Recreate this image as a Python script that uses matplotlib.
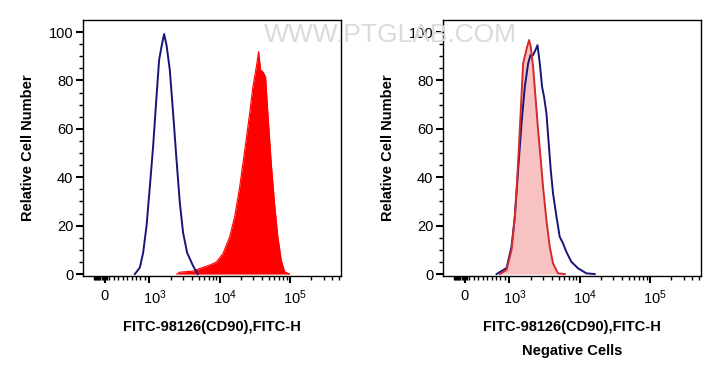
import numpy as np
import matplotlib
matplotlib.use("Agg")
import matplotlib.pyplot as plt
import matplotlib.transforms as mtransforms

plt.rcParams['font.family'] = ['Liberation Sans', 'DejaVu Sans']
plt.rcParams['mathtext.default'] = 'regular'

# ---------------- data (fluorescence intensity, relative cell number) ----------------
# Left panel: isotype/unstained control (blue outline)
left_blue_x = [674, 787, 861, 937, 1016, 1132, 1265, 1377, 1490, 1622, 1754, 1954,
               2178, 2433, 2711, 3015, 3436, 4179, 4870]
left_blue_y = [0, 2.7, 8.9, 19.9, 36, 52.8, 73.4, 88.5, 94, 99.2, 94.7, 84.4,
               66.5, 47.3, 29.5, 17.2, 8.9, 3.4, 0]
# Left panel: FITC-98126 (CD90) stained cells (red filled)
left_red_x = [2454, 2711, 4140, 5200, 7210, 8980, 11140, 13860, 16320, 19230, 22640,
              26670, 29650, 33190, 35750, 38170, 41140, 44910, 48420, 54080, 60230,
              67100, 74980, 83540, 98400]
left_red_y = [0, 0.8, 1.2, 2.3, 3.7, 5, 8.5, 15.4, 23.7, 36, 51,
              66.4, 77.4, 85.7, 91.9, 84.3, 83.6, 81.5, 66.4, 45.7, 29.2,
              15.4, 5.8, 1, 0]
# Right panel: negative cells, control (red/pink) and stained (blue)
right_red_x = [787, 937, 1074, 1197, 1291, 1377, 1470, 1570, 1698, 1788, 1908, 2018,
               2178, 2352, 2563, 2771, 3015, 3368, 3750, 4180, 4920, 6120]
right_red_y = [0, 1.7, 9.9, 23.7, 38.8, 54, 70.5, 87, 91.2, 93.9, 96.7, 93.9,
               85.7, 73.3, 59.5, 48.5, 36, 22.3, 11.3, 4.4, 0.3, 0]
right_blue_x = [712, 937, 1074, 1197, 1333, 1490, 1660, 1848, 2000, 2178, 2352, 2513,
                2711, 2918, 3113, 3368, 3630, 3878, 4180, 4677, 5200, 5795, 6460, 7600,
                9460, 12450, 16330]
right_blue_y = [0, 2.5, 11.3, 23.7, 43, 62.3, 77.4, 87, 90.5, 90.5, 92.6, 94.6,
                87, 77.4, 73.3, 66.4, 54, 43, 33.3, 23.7, 15.4, 12.7, 9.2, 5.1,
                2.4, 0.3, 0]

x_major = [0, 1e3, 1e4, 1e5]
x_major_labels = ['0', '$10^3$', '$10^4$', '$10^5$']
y_major = [0, 20, 40, 60, 80, 100]
x_label = 'FITC-98126(CD90),FITC-H'
y_label = 'Relative Cell Number'
sub_label = 'Negative Cells'
watermark = 'WWW.PTGLAB.COM'

NAVY = '#16167a'

fig = plt.figure(figsize=(7.21, 3.92), dpi=100)
W, H = 721, 392
def axpos(l, r, t, b):
    return [l / W, 1 - b / H, (r - l) / W, (b - t) / H]

ax1 = fig.add_axes(axpos(83, 341, 20, 276))
ax2 = fig.add_axes(axpos(443, 701, 20, 276))

ax1.fill_between(left_red_x, left_red_y, 0, color='#ff0000', lw=0, zorder=2)
ax1.plot(left_red_x, left_red_y, color='#ff0000', lw=0.8, zorder=2)
ax1.plot(left_blue_x, left_blue_y, color=NAVY, lw=1.4, zorder=3)

ax2.fill_between(right_red_x, right_red_y, 0, color='#f9c2c2', lw=0, zorder=2)
ax2.plot(right_blue_x, right_blue_y, color=NAVY, lw=1.4, zorder=3)
ax2.plot(right_red_x, right_red_y, color='#d42a2a', lw=1.4, zorder=4)

minor = (list(np.arange(-250, 60, 25)) + list(np.arange(100, 1000, 100)) +
         [m * 10 ** e for e in (3, 4) for m in range(2, 10)] + [2e5, 3e5, 4e5, 5e5])

for ax in (ax1, ax2):
    ax.set_xscale('symlog', linthresh=1000, linscale=0.568)
    ax.set_xlim(-494, 5.3e5)
    ax.set_ylim(-0.8, 105)
    ax.set_xticks(x_major)
    ax.set_xticklabels(x_major_labels)
    ax.set_xticks(minor, minor=True)
    ax.set_yticks(y_major)
    ax.set_yticks(np.arange(0, 105, 5), minor=True)
    ax.tick_params(which='major', direction='out', length=5, width=1.5, labelsize=10.5, pad=2)
    ax.tick_params(which='minor', direction='out', length=3, width=1)
    ax.tick_params(axis='x', which='major', pad=4)
    for s in ax.spines.values():
        s.set_linewidth(1.0)
    ax.set_ylabel(y_label, fontsize=10.5, fontweight='bold', labelpad=10)
    off = mtransforms.ScaledTranslation(5 / 100, 0, fig.dpi_scale_trans)
    for lab in ax.get_xticklabels()[1:]:
        lab.set_transform(lab.get_transform() + off)

ax1.set_xlabel(x_label, fontsize=10.5, fontweight='bold', labelpad=9)
ax2.set_xlabel(x_label + '\n\n' + sub_label, fontsize=10.5, fontweight='bold',
               labelpad=9, linespacing=0.85)

fig.text(390 / W, 1 - 35 / H, watermark, fontsize=19, color='#dadada',
         ha='center', va='center', zorder=10)

fig.savefig('out.png', dpi=100)
